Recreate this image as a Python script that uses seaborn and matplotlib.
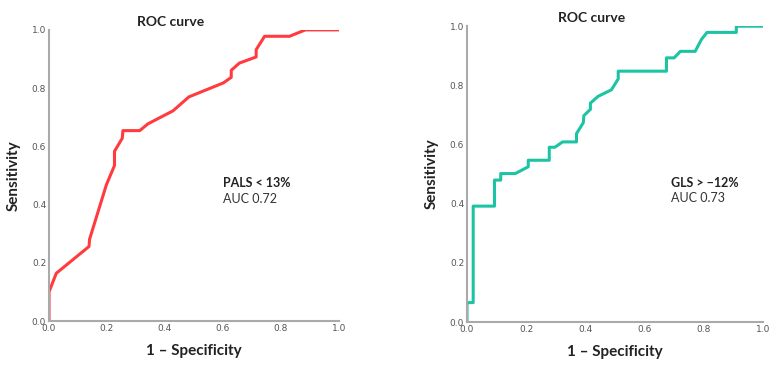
import numpy as np
import pandas as pd
import seaborn as sns
import matplotlib.pyplot as plt

# ROC curve points
pals_fpr = [0.0, 0.0, 0.025, 0.138, 0.140, 0.198, 0.226, 0.226, 0.253, 0.255, 0.313, 0.341,
            0.428, 0.483, 0.602, 0.629, 0.629, 0.657, 0.715, 0.715, 0.744, 0.830, 0.885, 1.0]
pals_tpr = [0.0, 0.10, 0.164, 0.256, 0.281, 0.468, 0.534, 0.583, 0.628, 0.654, 0.654, 0.677,
            0.722, 0.770, 0.818, 0.837, 0.861, 0.886, 0.907, 0.932, 0.978, 0.978, 1.0, 1.0]

gls_fpr = [0.0, 0.0, 0.021, 0.021, 0.093, 0.093, 0.114, 0.114, 0.163, 0.207, 0.207, 0.278,
           0.278, 0.297, 0.323, 0.370, 0.370, 0.393, 0.395, 0.417, 0.417, 0.443, 0.488,
           0.511, 0.511, 0.674, 0.674, 0.700, 0.721, 0.771, 0.792, 0.811, 0.910, 0.910, 1.0]
gls_tpr = [0.0, 0.066, 0.066, 0.392, 0.392, 0.480, 0.480, 0.502, 0.502, 0.525, 0.547, 0.547,
           0.591, 0.591, 0.609, 0.609, 0.637, 0.674, 0.698, 0.719, 0.740, 0.763, 0.785,
           0.822, 0.848, 0.848, 0.893, 0.893, 0.915, 0.915, 0.955, 0.979, 0.979, 1.0, 1.0]

panels = [
    (pals_fpr, pals_tpr, '#FF3B40', 'PALS < 13%', 'AUC 0.72', (0.60, 0.475, 0.42),
     [0.0626, 0.130, 0.370, 0.789]),
    (gls_fpr, gls_tpr, '#1DC4A4', 'GLS > \u221212%', 'AUC 0.73', (0.69, 0.47, 0.42),
     [0.5964, 0.127, 0.378, 0.802]),
]

sns.set_style('white')
plt.rcParams['font.family'] = ['Lato', 'DejaVu Sans']

fig = plt.figure(figsize=(7.83, 3.69), dpi=100)
ticks = [0.0, 0.2, 0.4, 0.6, 0.8, 1.0]

for fpr, tpr, col, lab, auc, (tx, ty1, ty2), rect in panels:
    ax = fig.add_axes(rect)
    df = pd.DataFrame({'fpr': fpr, 'tpr': tpr})
    sns.lineplot(data=df, x='fpr', y='tpr', sort=False, estimator=None,
                 color=col, linewidth=2.2, ax=ax)
    ax.set_xlim(0, 1)
    ax.set_ylim(0, 1)
    ax.set_xticks(ticks)
    ax.set_yticks(ticks)
    ax.set_xticklabels([f'{t:.1f}' for t in ticks], family='DejaVu Sans')
    ax.set_yticklabels([f'{t:.1f}' for t in ticks], family='DejaVu Sans')
    ax.tick_params(axis='both', labelsize=6.5, colors='#555555', length=0, pad=2)
    sns.despine(ax=ax)
    for s in ['left', 'bottom']:
        ax.spines[s].set_color('#AAAAAA')
        ax.spines[s].set_linewidth(1.5)
    ax.set_xlabel('1 \u2013 Specificity', fontsize=11, fontweight='bold', color='#222222', labelpad=8)
    ax.set_ylabel('Sensitivity', fontsize=11, fontweight='bold', color='#222222', labelpad=8)
    ax.set_title('ROC curve', fontsize=10, fontweight='bold', color='#222222', x=0.42, pad=3)
    ax.text(tx, ty1, lab, fontsize=9, fontweight='bold', color='#222222', va='center')
    ax.text(tx, ty2, auc, fontsize=9, color='#333333', va='center')

fig.savefig('out.png', dpi=100)
